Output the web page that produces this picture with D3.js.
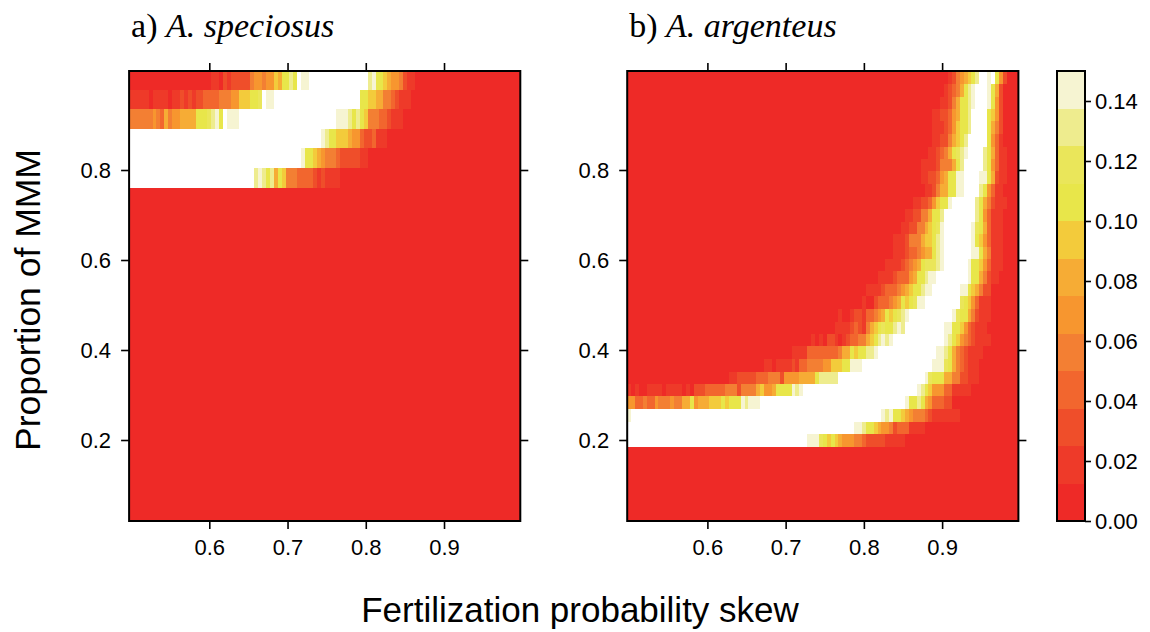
<!DOCTYPE html>
<html>
<head>
<meta charset="utf-8">
<script src="https://cdn.jsdelivr.net/npm/d3@7"></script>
<style>
  body { margin: 0; background: #fff; }
  svg { display: block; }
  .axis text { font-family: "Liberation Sans", Arial, Helvetica, sans-serif; font-size: 22px; fill: #000; }
  .axis line { stroke: #000; stroke-width: 1.6px; }
</style>
</head>
<body>
<svg id="chart" width="1150" height="632"></svg>
<script>
// ---- grid of fertilization probability skew (columns) ----
const fertSkewStart = 0.5;
const fertSkewStep = 0.005;
const fertSkewCount = 100;

// ---- colour key: interval breaks and fills ----
const keyBreaks = [0, 0.0125, 0.025, 0.0375, 0.05, 0.0625, 0.075, 0.0875, 0.1, 0.1125, 0.125, 0.1375, 0.15];
const keyColors = ["#EE2A27", "#EE3A29", "#EF4E2A", "#F2662E", "#F37F33", "#F7962F",
                   "#F6AC35", "#F3CB3B", "#E8E64A", "#EAE65A", "#EEEC8E", "#F6F4D2"];
// value carried by each band code (code 12 lies above the key range)
const bandValues = [0.006, 0.019, 0.031, 0.044, 0.056, 0.069, 0.081, 0.094, 0.106, 0.119, 0.131, 0.144, 0.2];
const W = 12;

// ---- tick labels ----
const xTicks = [0.6, 0.7, 0.8, 0.9];
const yTicks = [0.2, 0.4, 0.6, 0.8];
const keyTicks = [0, 0.02, 0.04, 0.06, 0.08, 0.10, 0.12, 0.14];

const panelLabels = ["a)", "b)"];
const speciesNames = ["A. speciosus", "A. argenteus"];

// ---- A. speciosus: proportion of MMM rows (top to bottom) ----
const mmmA = [1.000, 0.957, 0.913, 0.870, 0.826, 0.783, 0.739, 0.696, 0.652, 0.609, 0.565, 0.522,
              0.478, 0.435, 0.391, 0.348, 0.304, 0.261, 0.217, 0.174, 0.130, 0.087, 0.043];
// each row: runs of [first column, band code]
const rowsA = [
  [[0,0],[21,1],[23,0],[24,2],[25,1],[26,2],[31,4],[32,5],[34,4],[35,5],[37,7],[38,6],[39,8],[41,10],[42,8],[43,W],[44,11],[46,W],[61,10],[62,11],[63,8],[65,7],[66,6],[67,5],[69,4],[70,2],[71,1],[73,0]],
  [[0,1],[5,0],[6,1],[10,0],[11,1],[13,2],[14,1],[15,2],[16,1],[17,2],[19,3],[23,4],[26,5],[28,7],[31,8],[33,9],[34,W],[35,11],[37,W],[59,8],[61,7],[63,6],[65,4],[67,3],[68,2],[69,1],[72,0]],
  [[0,4],[6,5],[7,4],[8,3],[9,6],[10,4],[11,5],[13,6],[17,8],[20,9],[21,10],[22,11],[23,8],[24,W],[25,11],[28,W],[53,11],[56,10],[57,8],[58,10],[59,8],[60,7],[61,4],[64,3],[66,2],[67,1],[70,0]],
  [[0,W],[49,11],[50,10],[51,8],[53,7],[56,6],[57,5],[59,3],[60,2],[62,3],[63,1],[66,0]],
  [[0,W],[44,11],[45,8],[47,7],[48,6],[49,5],[50,4],[53,3],[54,2],[59,1],[61,0]],
  [[0,W],[32,10],[33,11],[34,10],[35,8],[36,10],[37,6],[38,8],[39,7],[40,4],[43,3],[47,2],[48,1],[49,2],[50,1],[54,0]],
  [[0,0]], [[0,0]], [[0,0]], [[0,0]], [[0,0]], [[0,0]], [[0,0]], [[0,0]], [[0,0]],
  [[0,0]], [[0,0]], [[0,0]], [[0,0]], [[0,0]], [[0,0]], [[0,0]], [[0,0]]
];

// ---- A. argenteus: proportion of MMM rows (top to bottom) ----
const mmmB = [1.005, 0.977, 0.949, 0.922, 0.894, 0.866, 0.838, 0.811, 0.783, 0.755, 0.727, 0.699,
              0.672, 0.644, 0.616, 0.588, 0.561, 0.533, 0.505, 0.477, 0.449, 0.422, 0.394, 0.366,
              0.338, 0.311, 0.283, 0.255, 0.227, 0.199, 0.172, 0.144, 0.116, 0.088, 0.061, 0.033];
const rowsB = [
  [[0,0],[82,1],[83,2],[84,4],[85,5],[86,6],[87,7],[88,8],[89,10],[90,W],[92,11],[93,W],[94,8],[95,5],[96,2],[97,0]],
  [[0,0],[81,1],[82,2],[83,3],[84,4],[85,6],[86,8],[87,10],[88,11],[89,W],[92,11],[93,8],[94,6],[95,2],[96,0]],
  [[0,0],[80,1],[82,2],[83,4],[84,6],[85,8],[87,10],[88,11],[89,W],[92,11],[93,8],[94,5],[95,2],[96,0]],
  [[0,0],[78,1],[80,2],[82,3],[83,5],[84,6],[85,8],[87,10],[88,W],[92,8],[93,7],[94,5],[95,2],[96,0]],
  [[0,0],[78,1],[81,2],[82,3],[83,5],[84,7],[85,8],[87,10],[88,W],[92,8],[93,6],[94,4],[95,2],[96,0]],
  [[0,0],[78,1],[80,2],[82,4],[83,6],[84,7],[85,8],[86,10],[87,W],[92,8],[93,5],[94,3],[95,1],[96,0]],
  [[0,0],[77,1],[79,2],[80,3],[81,4],[82,6],[83,8],[84,9],[85,10],[86,11],[87,W],[91,10],[92,8],[93,6],[94,3],[95,1],[97,0]],
  [[0,0],[75,1],[79,2],[80,4],[83,6],[84,8],[85,10],[86,W],[91,10],[92,8],[93,5],[94,3],[95,1],[97,0]],
  [[0,0],[75,1],[77,2],[79,3],[80,5],[81,6],[82,8],[84,11],[86,W],[90,11],[92,8],[93,6],[94,2],[95,1],[97,0]],
  [[0,0],[76,1],[78,2],[79,4],[80,6],[82,8],[84,11],[86,W],[90,10],[91,8],[92,5],[93,3],[94,1],[96,0]],
  [[0,0],[73,1],[75,2],[77,3],[78,5],[79,7],[80,8],[82,11],[83,W],[89,10],[90,8],[91,6],[92,4],[93,2],[94,1],[97,0]],
  [[0,0],[71,1],[73,2],[75,4],[77,6],[78,8],[80,10],[81,W],[89,10],[90,8],[91,5],[92,3],[93,1],[96,0]],
  [[0,0],[70,1],[72,2],[74,4],[76,6],[77,7],[78,8],[79,9],[80,11],[81,W],[88,11],[89,9],[90,8],[91,6],[92,3],[93,1],[96,0]],
  [[0,0],[68,1],[71,2],[72,4],[75,6],[76,7],[78,8],[79,10],[80,11],[81,W],[88,11],[89,8],[90,7],[91,5],[92,3],[93,1],[96,0]],
  [[0,0],[68,1],[71,2],[72,3],[74,4],[75,5],[76,6],[78,8],[79,10],[80,11],[81,W],[88,11],[90,8],[91,6],[92,4],[93,1],[96,0]],
  [[0,0],[66,1],[70,2],[71,3],[72,4],[73,5],[74,6],[75,8],[76,9],[79,10],[80,11],[81,W],[87,11],[88,8],[90,7],[91,5],[92,3],[93,1],[96,0]],
  [[0,0],[64,1],[68,2],[69,3],[72,5],[73,6],[74,8],[76,10],[77,11],[79,W],[87,11],[88,8],[90,6],[91,4],[92,2],[93,1],[95,0]],
  [[0,0],[61,1],[65,2],[66,3],[69,4],[70,5],[71,6],[72,7],[73,8],[75,10],[76,11],[78,W],[85,11],[87,8],[88,7],[89,6],[90,4],[91,2],[93,0]],
  [[0,0],[60,1],[61,0],[63,2],[64,3],[67,4],[68,5],[69,6],[70,8],[71,7],[72,8],[73,9],[74,11],[76,W],[85,9],[86,8],[87,7],[88,5],[89,3],[90,1],[93,0]],
  [[0,0],[54,1],[55,0],[57,1],[58,2],[60,1],[61,3],[63,4],[64,5],[65,6],[66,8],[67,7],[68,8],[69,9],[70,10],[71,11],[72,W],[83,11],[84,9],[85,8],[87,6],[88,4],[89,2],[90,1],[93,0]],
  [[0,0],[53,1],[57,2],[58,3],[59,2],[60,1],[61,4],[62,6],[63,7],[64,8],[65,9],[66,8],[68,10],[69,11],[70,10],[71,W],[81,11],[83,8],[85,7],[86,5],[87,3],[88,2],[89,1],[92,0]],
  [[0,0],[47,1],[48,0],[49,1],[50,0],[51,2],[53,1],[54,0],[55,1],[56,2],[57,3],[59,4],[61,6],[62,7],[63,8],[64,10],[65,11],[66,10],[67,11],[68,W],[81,11],[82,10],[83,8],[84,7],[85,5],[86,4],[87,3],[88,2],[89,1],[93,0]],
  [[0,0],[42,1],[46,3],[54,4],[55,6],[57,8],[58,7],[59,8],[61,10],[63,11],[64,W],[79,11],[81,10],[82,8],[83,6],[84,4],[85,3],[86,2],[87,1],[91,0]],
  [[0,0],[35,1],[37,0],[38,1],[42,2],[43,1],[44,3],[46,4],[50,5],[52,7],[55,8],[57,11],[60,W],[78,11],[81,9],[82,8],[83,6],[84,4],[85,3],[86,2],[87,1],[90,0]],
  [[0,0],[26,1],[28,2],[33,3],[36,4],[39,2],[40,5],[44,6],[48,8],[49,10],[54,W],[76,11],[77,9],[78,8],[81,6],[83,4],[85,2],[87,1],[90,0]],
  [[0,1],[1,0],[2,1],[3,0],[5,1],[9,0],[10,1],[14,0],[15,1],[16,0],[17,2],[20,3],[25,4],[28,2],[29,4],[33,6],[34,7],[35,5],[37,6],[38,8],[42,11],[43,10],[44,11],[45,W],[74,11],[75,10],[76,8],[77,7],[78,5],[81,3],[83,1],[88,0]],
  [[0,5],[2,3],[4,4],[5,3],[7,5],[8,4],[11,5],[12,4],[14,6],[16,8],[17,5],[18,6],[21,7],[24,8],[25,7],[26,8],[29,11],[30,10],[31,11],[34,W],[71,11],[72,8],[74,10],[75,8],[76,6],[77,5],[78,3],[81,2],[83,0]],
  [[0,11],[1,W],[65,11],[66,10],[67,11],[68,8],[70,7],[71,6],[72,5],[73,4],[76,3],[77,2],[78,1],[85,0]],
  [[0,W],[58,11],[60,10],[61,8],[63,7],[64,6],[65,5],[67,4],[68,2],[69,3],[72,1],[76,0]],
  [[0,W],[46,11],[49,9],[50,8],[51,7],[52,8],[53,7],[54,6],[55,5],[58,4],[60,3],[61,2],[66,1],[71,0]],
  [[0,0]], [[0,0]], [[0,0]], [[0,0]], [[0,0]], [[0,0]]
];

// ---- layout ----
const svg = d3.select("#chart");
const sans = '"Liberation Sans", Arial, Helvetica, sans-serif';
const serif = '"Liberation Serif", "Times New Roman", Times, serif';
const panelTop = 71, panelH = 450, panelW = 391.2;
const panelLefts = [129.1, 627.2];
const fertSkew = d3.range(fertSkewCount).map(i => +(fertSkewStart + i * fertSkewStep).toFixed(3));

const x = d3.scaleLinear()
  .domain([fertSkewStart - fertSkewStep / 2, fertSkew[fertSkewCount - 1] + fertSkewStep / 2])
  .range([0, panelW]);
const y = d3.scaleLinear().domain([0.02, 1.02]).range([panelH, 0]);
const fill = d3.scaleThreshold().domain(keyBreaks.slice(1, -1)).range(keyColors);

function drawPanel(idx, mmm, rows) {
  const g = svg.append("g").attr("transform", `translate(${panelLefts[idx]},${panelTop})`);
  const clipId = "clip" + idx;
  g.append("clipPath").attr("id", clipId)
    .append("rect").attr("width", panelW).attr("height", panelH);

  // cell edges halfway between neighbouring rows, outer rows extended by half a step
  const edges = mmm.map((v, i) => {
    const up = i > 0 ? (mmm[i - 1] + v) / 2 : v + (v - mmm[i + 1]) / 2;
    const lo = i < mmm.length - 1 ? (mmm[i + 1] + v) / 2 : v - (mmm[i - 1] - v) / 2;
    return [lo, up];
  });

  const cells = [];
  rows.forEach((runs, r) => {
    runs.forEach((run, j) => {
      const first = run[0];
      const last = (j < runs.length - 1 ? runs[j + 1][0] : fertSkewCount) - 1;
      const value = bandValues[run[1]];
      if (value >= keyBreaks[keyBreaks.length - 1]) return;
      cells.push({
        x0: fertSkew[first] - fertSkewStep / 2,
        x1: fertSkew[last] + fertSkewStep / 2,
        lo: edges[r][0], up: edges[r][1], value
      });
    });
  });

  g.append("g").attr("clip-path", `url(#${clipId})`)
    .selectAll("rect").data(cells).join("rect")
    .attr("x", d => x(d.x0))
    .attr("width", d => x(d.x1) - x(d.x0))
    .attr("y", d => y(d.up))
    .attr("height", d => y(d.lo) - y(d.up))
    .attr("fill", d => fill(d.value))
    .attr("shape-rendering", "crispEdges");

  const tick = 8;
  g.append("g").attr("class", "axis").attr("transform", `translate(0,${panelH})`)
    .call(d3.axisBottom(x).tickValues(xTicks).tickFormat(d3.format(".1f")).tickSize(tick).tickPadding(10))
    .call(a => a.select(".domain").remove());
  g.append("g").attr("class", "axis")
    .call(d3.axisTop(x).tickValues(xTicks).tickFormat("").tickSize(tick))
    .call(a => a.select(".domain").remove());
  g.append("g").attr("class", "axis")
    .call(d3.axisLeft(y).tickValues(yTicks).tickFormat(d3.format(".1f")).tickSize(tick).tickPadding(10))
    .call(a => a.select(".domain").remove());
  g.append("g").attr("class", "axis").attr("transform", `translate(${panelW},0)`)
    .call(d3.axisRight(y).tickValues(yTicks).tickFormat("").tickSize(tick))
    .call(a => a.select(".domain").remove());

  g.append("rect").attr("width", panelW).attr("height", panelH)
    .attr("fill", "none").attr("stroke", "#000").attr("stroke-width", 2);

  const title = svg.append("text")
    .attr("x", panelLefts[idx] + 2).attr("y", 37)
    .attr("font-family", serif).attr("font-size", 34).attr("fill", "#000");
  title.append("tspan").text(panelLabels[idx] + " ");
  title.append("tspan").attr("font-style", "italic").text(speciesNames[idx]);
}

drawPanel(0, mmmA, rowsA);
drawPanel(1, mmmB, rowsB);

// ---- colour key ----
const keyLeft = 1057, keyW = 28;
const k = d3.scaleLinear().domain([0, keyBreaks[keyBreaks.length - 1]]).range([panelH, 0]);
const kg = svg.append("g").attr("transform", `translate(${keyLeft},${panelTop})`);
kg.selectAll("rect.band").data(keyColors).join("rect")
  .attr("class", "band")
  .attr("x", 0).attr("width", keyW)
  .attr("y", (c, i) => k(keyBreaks[i + 1]))
  .attr("height", (c, i) => k(keyBreaks[i]) - k(keyBreaks[i + 1]))
  .attr("fill", c => c)
  .attr("shape-rendering", "crispEdges");
kg.append("rect").attr("width", keyW).attr("height", panelH)
  .attr("fill", "none").attr("stroke", "#000").attr("stroke-width", 2);
kg.append("g").attr("class", "axis").attr("transform", `translate(${keyW},0)`)
  .call(d3.axisRight(k).tickValues(keyTicks).tickFormat(d3.format(".2f")).tickSize(6).tickPadding(4))
  .call(a => a.select(".domain").remove());

// ---- axis titles ----
svg.append("text")
  .attr("x", 580).attr("y", 622)
  .attr("text-anchor", "middle")
  .attr("font-family", sans).attr("font-size", 35).attr("fill", "#000")
  .text("Fertilization probability skew");
svg.append("text")
  .attr("transform", "translate(40,300) rotate(-90)")
  .attr("text-anchor", "middle")
  .attr("font-family", sans).attr("font-size", 35.5).attr("fill", "#000")
  .text("Proportion of MMM");
</script>
</body>
</html>
